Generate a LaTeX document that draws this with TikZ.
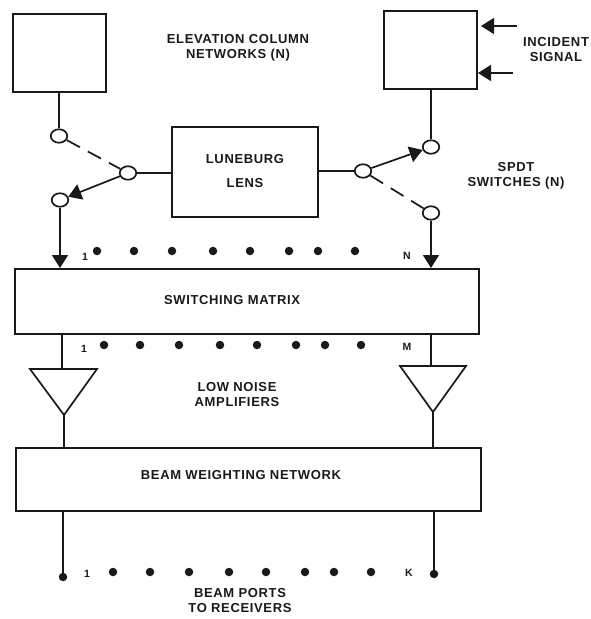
\documentclass[tikz,border=0pt]{standalone}
\usepackage{fontspec}
\setmainfont[LetterSpace=5]{Liberation Sans}
\usetikzlibrary{arrows.meta}
\tikzset{
  x=1pt,y=-1pt,
  wire/.style={line width=1.7pt,black!90},
  box/.style={draw=black!90,line width=2pt,fill=none,inner sep=0pt},
  port/.style={ellipse,draw=black!90,line width=1.7pt,minimum width=16.5pt,minimum height=13.5pt,inner sep=0pt},
  fdot/.style={circle,fill=black!90,minimum size=8.5pt,inner sep=0pt},
  lbl/.style={font=\fontsize{13}{15}\selectfont\bfseries,align=center,text=black!90,inner sep=0pt},
  sm/.style={font=\fontsize{10.5}{11}\selectfont\bfseries,text=black!90,inner sep=0pt},
  tipw/.style={-{Triangle[length=13pt,width=16pt]}},
  dashline/.style={line width=1.7pt,black!90,dash pattern=on 15pt off 9pt},
}
\usetikzlibrary{shapes.geometric}
\begin{document}
\begin{tikzpicture}
\useasboundingbox (0,0) rectangle (591,619);
\node[box,minimum width=93pt,minimum height=78pt] (cl) at (59.5,53) {};
\node[box,minimum width=93pt,minimum height=78pt] (cr) at (430.5,50) {};
\node[box,minimum width=146pt,minimum height=90pt] (lens) at (245,172) {};
\node[lbl] (lenst) at (245,171.5) {LUNEBURG\\[9pt]LENS};
\node[box,minimum width=464pt,minimum height=65pt] (sw) at (247,301.5) {};
\node[lbl] (swt) at (232,300) {SWITCHING MATRIX};
\node[box,minimum width=465pt,minimum height=63pt] (bw) at (248.5,479.5) {};
\node[lbl] (bwt) at (241,475) {BEAM WEIGHTING NETWORK};
\node[port] (tl) at (59,136) {};
\node[port] (ml) at (128,173) {};
\node[port] (bl) at (60,200) {};
\node[port] (mr) at (363,171) {};
\node[port] (tr) at (431,147) {};
\node[port] (br) at (431,213) {};
\draw[wire] (cl.south -| tl) -- (tl);
\draw[wire] (cr.south -| tr) -- (tr);
\draw[dashline] (tl) -- (ml);
\draw[dashline] (mr) -- (br);
\draw[wire] (ml) -- (lens.west |- ml);
\draw[wire] (mr) -- (lens.east |- mr);
\draw[wire,tipw] (ml) -- (bl);
\draw[wire,tipw] (mr) -- (tr);
\draw[wire,tipw] (bl) -- (bl |- sw.north);
\draw[wire,tipw] (br) -- (br |- sw.north);
\coordinate (a1) at (517,26);
\coordinate (a2) at (513,73);
\draw[wire,tipw] (a1) -- (481,26);
\draw[wire,tipw] (a2) -- (478,73);
\node[lbl] (t1) at (238,48) {ELEVATION COLUMN\\NETWORKS (N)};
\node[lbl] (t2) at (556,50) {INCIDENT\\SIGNAL};
\node[lbl] (t3) at (516,176) {SPDT\\SWITCHES (N)};
\node[lbl] (t4) at (237,395) {LOW NOISE\\AMPLIFIERS};
\node[lbl] (t5) at (240,601) {BEAM PORTS\\TO RECEIVERS};
\node[sm] (n1) at (85,257) {1};
\node[sm] (n2) at (407,256) {N};
\node[sm] (n3) at (84,349) {1};
\node[sm] (n4) at (407,347) {M};
\node[sm] (n5) at (87,574) {1};
\node[sm] (n6) at (409,573) {K};
\foreach \i/\x in {1/97,2/134,3/172,4/213,5/250,6/289,7/318,8/355}
  \node[fdot] (da\i) at (\x,251) {};
\foreach \i/\x in {1/104,2/140,3/179,4/220,5/257,6/296,7/325,8/361}
  \node[fdot] (db\i) at (\x,345) {};
\foreach \i/\x in {1/113,2/150,3/189,4/229,5/266,6/305,7/334,8/371}
  \node[fdot] (dc\i) at (\x,572) {};
\coordinate (la) at (30,369);\coordinate (lb) at (97,369);\coordinate (lc) at (64,415);
\coordinate (ra) at (400,366);\coordinate (rb) at (466,366);\coordinate (rc) at (433,412);
\draw[wire,line join=miter] (la) -- (lb) -- (lc) -- cycle;
\draw[wire,line join=miter] (ra) -- (rb) -- (rc) -- cycle;
\draw[wire] (sw.south -| 62,0) -- (62,369);
\draw[wire] (sw.south -| 431,0) -- (431,366);
\draw[wire] (lc) -- (lc |- bw.north);
\draw[wire] (rc) -- (rc |- bw.north);
\node[fdot] (pl) at (63,577) {};
\node[fdot] (pr) at (434,574) {};
\draw[wire] (bw.south -| pl) -- (pl);
\draw[wire] (bw.south -| pr) -- (pr);
\end{tikzpicture}
\end{document}
